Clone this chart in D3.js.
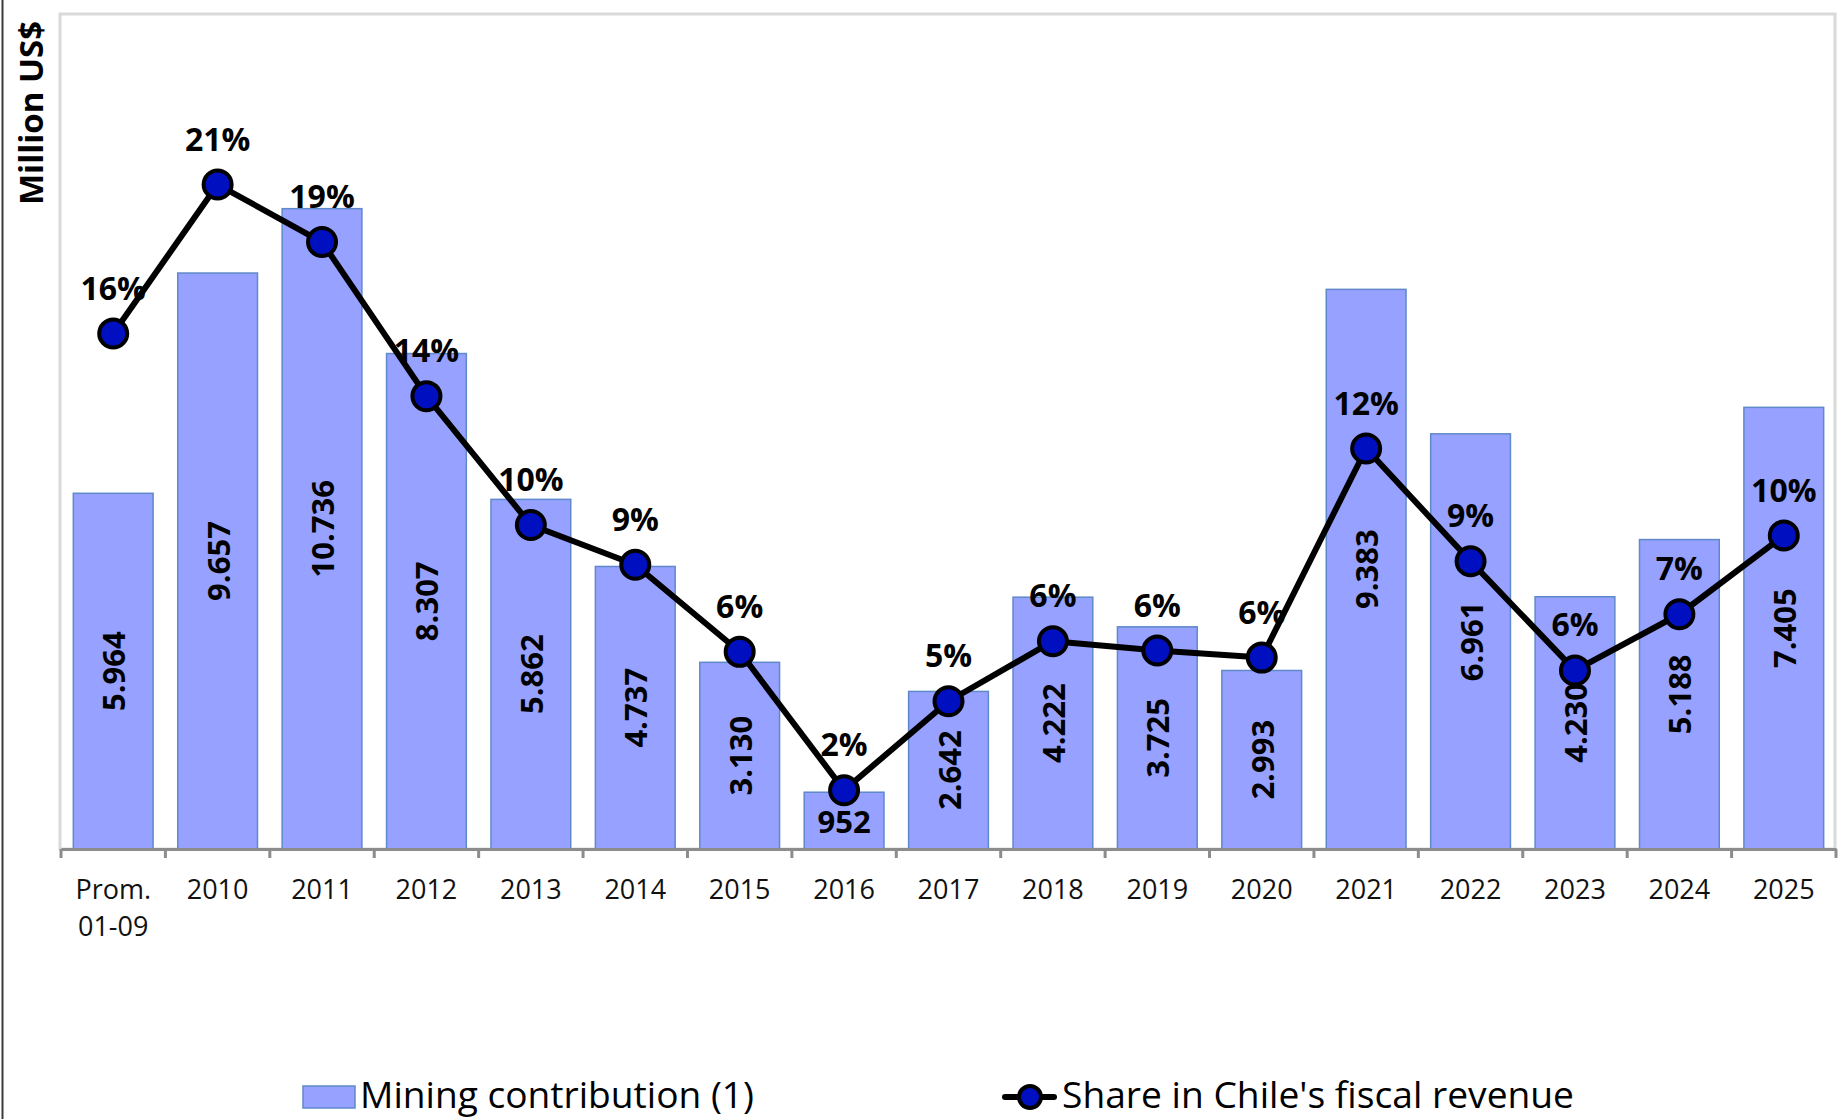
<!DOCTYPE html>
<html>
<head>
<meta charset="utf-8">
<script src="https://cdn.jsdelivr.net/npm/d3@7"></script>
<style>
  html, body { margin: 0; padding: 0; background: #fff; }
  svg { display: block; font-family: "Open Sans", "Noto Sans", sans-serif; }
</style>
</head>
<body>
<svg id="chart" width="1841" height="1119"></svg>
<script>
// Categories (first one is the 2001-2009 average, drawn on two lines)
const categories = ["Prom.\n01-09", "2010", "2011", "2012", "2013", "2014", "2015", "2016",
                    "2017", "2018", "2019", "2020", "2021", "2022", "2023", "2024", "2025"];

// Mining contribution, million US$
const mining = [5964, 9657, 10736, 8307, 5862, 4737, 3130, 952,
                2642, 4222, 3725, 2993, 9383, 6961, 4230, 5188, 7405];

// Share in Chile's fiscal revenue (shown rounded to whole percent)
const share = [0.1605, 0.2069, 0.189, 0.141, 0.1009, 0.0885, 0.0614, 0.0183,
               0.046, 0.0647, 0.0618, 0.0596, 0.1247, 0.0896, 0.0556, 0.0731, 0.0976];

const seriesNames = ["Mining contribution (1)", "Share in Chile's fiscal revenue"];
const yTitle = "Million US$";

const barFill = "#97a1ff", barStroke = "#5f89c9", markerFill = "#0010c0";

const svg = d3.select("#chart");
const plot = { left: 61, right: 1836, top: 14, bottom: 849 };

const x = d3.scaleBand().domain(categories)
  .range([plot.left, plot.right]).paddingInner(0.236).paddingOuter(0.118);
const y = d3.scaleLinear().domain([0, 14000]).range([plot.bottom, plot.top]);
const y2 = d3.scaleLinear().domain([0, 0.26]).range([plot.bottom, plot.top]);

const numFmt = d3.formatLocale({ decimal: ",", thousands: ".", grouping: [3], currency: ["$", ""] }).format(",");
const pctFmt = d3.format(".0%");

// outer chart frame edge on the left
svg.append("line").attr("x1", 2.5).attr("x2", 2.5).attr("y1", 0).attr("y2", 1119)
  .attr("stroke", "#3a3a3a").attr("stroke-width", 2);

// plot area border
svg.append("rect").attr("x", plot.left - 1).attr("y", plot.top)
  .attr("width", plot.right - plot.left).attr("height", plot.bottom - plot.top)
  .attr("fill", "none").attr("stroke", "#d9d9d9").attr("stroke-width", 3);

// bars
svg.append("g").selectAll("rect").data(mining).join("rect")
  .attr("x", (d, i) => x(categories[i]))
  .attr("y", d => y(d))
  .attr("width", x.bandwidth())
  .attr("height", d => y(0) - y(d))
  .attr("fill", barFill).attr("stroke", barStroke).attr("stroke-width", 1.5);

// x axis: baseline, category boundary ticks, labels
const axisG = svg.append("g").attr("transform", `translate(0,${plot.bottom})`)
  .call(d3.axisBottom(x).tickSize(0).tickFormat(""));
axisG.select(".domain").attr("stroke", "#8c8c8c").attr("stroke-width", 3);
const step = x.step();
const bounds = d3.range(categories.length + 1).map(i => plot.left + i * step);
axisG.selectAll(".bound").data(bounds).join("line").attr("class", "bound")
  .attr("x1", d => d).attr("x2", d => d).attr("y1", 0).attr("y2", 9)
  .attr("stroke", "#8c8c8c").attr("stroke-width", 3);

const tickLabels = svg.append("g");
categories.forEach(c => {
  const t = tickLabels.append("text")
    .attr("x", x(c) + x.bandwidth() / 2).attr("y", 899)
    .attr("text-anchor", "middle").attr("font-size", 27).attr("fill", "#111");
  c.split("\n").forEach((line, k) => {
    t.append("tspan").attr("x", x(c) + x.bandwidth() / 2).attr("dy", k === 0 ? 0 : 37).text(line);
  });
});

// bar value labels (vertical, except where the bar is too short)
svg.append("g").selectAll("text").data(mining).join("text")
  .attr("transform", (d, i) => {
    const cx = x(categories[i]) + x.bandwidth() / 2;
    const cy = (y(d) + y(0)) / 2;
    return y(0) - y(d) > 110 ? `translate(${cx},${cy}) rotate(-90)` : `translate(${cx},${cy})`;
  })
  .attr("text-anchor", "middle").attr("dominant-baseline", "central")
  .attr("font-size", 31).attr("font-weight", "bold").attr("fill", "#000")
  .text(d => numFmt(d));

// share line with markers
const line = d3.line().x((d, i) => x(categories[i]) + x.bandwidth() / 2).y(d => y2(d));
svg.append("path").datum(share).attr("d", line)
  .attr("fill", "none").attr("stroke", "#000").attr("stroke-width", 6).attr("stroke-linejoin", "round");
svg.append("g").selectAll("circle").data(share).join("circle")
  .attr("cx", (d, i) => x(categories[i]) + x.bandwidth() / 2)
  .attr("cy", d => y2(d)).attr("r", 14)
  .attr("fill", markerFill).attr("stroke", "#000").attr("stroke-width", 4);

// share labels above markers
svg.append("g").selectAll("text").data(share).join("text")
  .attr("x", (d, i) => x(categories[i]) + x.bandwidth() / 2)
  .attr("y", d => y2(d) - 34)
  .attr("text-anchor", "middle").attr("font-size", 32).attr("font-weight", "bold").attr("fill", "#000")
  .text(d => pctFmt(d));

// y axis title
svg.append("text").attr("transform", "translate(43,113) rotate(-90)")
  .attr("text-anchor", "middle").attr("font-size", 33).attr("font-weight", "bold").attr("fill", "#000")
  .text(yTitle);

// legend
const lg = svg.append("g");
lg.append("rect").attr("x", 303).attr("y", 1086).attr("width", 52).attr("height", 22)
  .attr("fill", barFill).attr("stroke", barStroke).attr("stroke-width", 1.5);
lg.append("text").attr("x", 360).attr("y", 1108).attr("font-size", 36).attr("fill", "#000")
  .attr("textLength", 394).attr("lengthAdjust", "spacingAndGlyphs")
  .text(seriesNames[0]);
lg.append("line").attr("x1", 1005).attr("x2", 1054).attr("y1", 1097).attr("y2", 1097)
  .attr("stroke", "#000").attr("stroke-width", 6).attr("stroke-linecap", "round");
lg.append("circle").attr("cx", 1030).attr("cy", 1097).attr("r", 11)
  .attr("fill", markerFill).attr("stroke", "#000").attr("stroke-width", 4);
lg.append("text").attr("x", 1062).attr("y", 1108).attr("font-size", 36).attr("fill", "#000")
  .attr("textLength", 512).attr("lengthAdjust", "spacingAndGlyphs")
  .text(seriesNames[1]);
</script>
</body>
</html>
